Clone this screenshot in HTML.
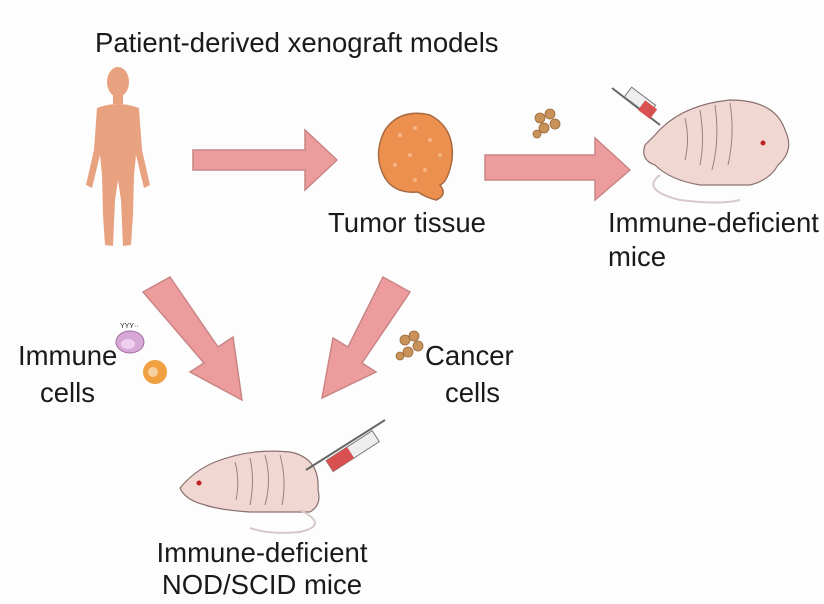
<!DOCTYPE html>
<html><head><meta charset="utf-8"><style>
html,body{margin:0;padding:0;background:#fff;}
svg{display:block;}
text{font-family:"Liberation Sans",sans-serif;fill:#1a1a1a;}
</style></head><body>
<svg width="824" height="604" viewBox="0 0 824 604" xmlns="http://www.w3.org/2000/svg">
<rect width="824" height="604" fill="#fdfdfd"/>
<text x="95" y="52" font-size="27.5">Patient-derived xenograft models</text>
<!-- human -->
<g fill="#e9a27f">
<ellipse cx="118" cy="82" rx="11" ry="15"/>
<rect x="113" y="94" width="10" height="10"/>
<path d="M97 108 Q118 100 139 108 L142 150 L150 185 L144 188 L136 155 L134 175 L133 215 L131 245 L123 246 L121 200 L118 180 L115 200 L113 246 L105 245 L103 215 L102 175 L100 155 L92 188 L86 185 L94 150 Z"/>
</g>
<!-- arrow 1 -->
<path d="M193 150 L305 150 L305 130 L337 160 L305 190 L305 170 L193 170 Z" fill="#ec9c9c" stroke="#c98585" stroke-width="1.5"/>
<!-- tumor -->
<path d="M385 130 Q400 108 430 115 Q455 128 452 160 Q448 182 440 185 Q448 195 436 200 Q425 197 418 192 Q395 194 385 178 Q372 155 385 130 Z" fill="#ec9050" stroke="#a86a40" stroke-width="1.5"/>
<g fill="#f7c090" opacity="0.8">
<circle cx="400" cy="135" r="2"/><circle cx="415" cy="128" r="2"/><circle cx="430" cy="140" r="2"/><circle cx="410" cy="155" r="2"/><circle cx="395" cy="165" r="2"/><circle cx="425" cy="170" r="2"/><circle cx="440" cy="155" r="2"/><circle cx="415" cy="180" r="2"/>
</g>
<text x="407" y="232" font-size="27.5" text-anchor="middle">Tumor tissue</text>
<!-- arrow 2 -->
<path d="M485 155 L595 155 L595 138 L630 170 L595 200 L595 180 L485 180 Z" fill="#ec9c9c" stroke="#c98585" stroke-width="1.5"/>
<!-- cancer cluster top -->
<g fill="#c8925a" stroke="#9a6a3a" stroke-width="0.8">
<circle cx="540" cy="118" r="5"/><circle cx="550" cy="114" r="5"/><circle cx="555" cy="124" r="5"/><circle cx="544" cy="128" r="5"/><circle cx="537" cy="134" r="4"/>
</g>
<!-- top right mouse -->
<g>
<path d="M655 135 Q680 105 730 100 Q775 100 785 130 Q795 150 778 165 Q770 180 750 185 L700 185 Q670 180 655 165 Q640 160 645 145 Z" fill="#f0d7d2" stroke="#8a7070" stroke-width="1.2"/>
<path d="M660 175 Q640 190 680 200 Q720 205 740 200" fill="none" stroke="#d8c8c8" stroke-width="2"/>
<circle cx="763" cy="143" r="2.5" fill="#c02020"/>
<g stroke="#9a8080" stroke-width="1" fill="none"><path d="M700 110 Q705 140 700 165"/><path d="M715 105 Q720 140 712 170"/><path d="M730 103 Q735 135 728 165"/><path d="M685 118 Q690 140 685 160"/></g>
<line x1="612" y1="88" x2="660" y2="125" stroke="#666" stroke-width="2"/>
<rect x="625" y="95" width="30" height="12" transform="rotate(37 640 101)" fill="#eee" stroke="#777"/>
<rect x="640" y="104" width="15" height="12" transform="rotate(37 648 110)" fill="#d95050"/>
</g>
<text x="608" y="232" font-size="27.5">Immune-deficient</text>
<text x="608" y="266" font-size="27.5">mice</text>
<!-- diagonal arrows -->
<path d="M143 292 L170 277 L218 347 L233 337 L242 400 L190 372 L204 363 Z" fill="#ec9c9c" stroke="#c98585" stroke-width="1.5"/>
<path d="M383 277 L410 292 L362 363 L376 372 L322 398 L333 338 L348 347 Z" fill="#ec9c9c" stroke="#c98585" stroke-width="1.5"/>
<!-- immune cells -->
<ellipse cx="130" cy="342" rx="14" ry="11" fill="#d8a8d8" stroke="#a070a0"/>
<ellipse cx="128" cy="344" rx="7" ry="5" fill="#f0d0f0"/>
<text x="120" y="328" font-size="7" fill="#777">YYY··</text>
<circle cx="155" cy="372" r="12" fill="#f0a040"/>
<circle cx="153" cy="372" r="5" fill="#f8d0a0"/>
<text x="18" y="365" font-size="27.5">Immune</text>
<text x="40" y="402" font-size="27.5">cells</text>
<!-- cancer cells -->
<g fill="#c8925a" stroke="#9a6a3a" stroke-width="0.8">
<circle cx="405" cy="340" r="5"/><circle cx="414" cy="336" r="5"/><circle cx="418" cy="346" r="5"/><circle cx="408" cy="352" r="5"/><circle cx="400" cy="356" r="4"/>
</g>
<text x="425" y="365" font-size="27.5">Cancer</text>
<text x="445" y="402" font-size="27.5">cells</text>
<!-- bottom mouse -->
<g>
<path d="M180 488 Q195 470 215 462 Q250 448 290 452 Q320 458 318 490 Q322 505 310 512 L250 512 Q220 510 205 505 Q185 500 180 488 Z" fill="#f0d7d2" stroke="#8a7070" stroke-width="1.2"/>
<path d="M300 510 Q330 525 300 532 Q270 535 250 528" fill="none" stroke="#d8c8c8" stroke-width="2"/>
<circle cx="199" cy="483" r="2.5" fill="#c02020"/>
<g stroke="#9a8080" stroke-width="1" fill="none"><path d="M250 458 Q255 480 250 505"/><path d="M265 455 Q272 480 265 505"/><path d="M280 455 Q287 480 282 505"/><path d="M235 462 Q240 480 236 500"/></g>
<line x1="306" y1="470" x2="385" y2="420" stroke="#666" stroke-width="2"/>
<rect x="325" y="445" width="55" height="13" transform="rotate(-33 352 451)" fill="#eee" stroke="#777"/>
<rect x="325" y="445" width="25" height="13" transform="rotate(-33 352 451)" fill="#d95050"/>
</g>
<text x="262" y="562" font-size="27.5" text-anchor="middle">Immune-deficient</text>
<text x="262" y="594" font-size="27.5" text-anchor="middle">NOD/SCID mice</text>
</svg>
</body></html>
